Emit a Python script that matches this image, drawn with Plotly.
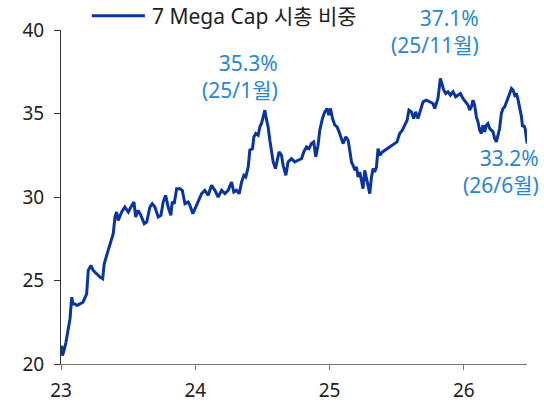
import plotly.graph_objects as go

# 7 Mega Cap market-cap share (%); x in decimal years
t = [2023.004, 2023.011, 2023.022, 2023.037, 2023.052, 2023.067, 2023.080, 2023.089, 2023.104, 2023.119,
     2023.141, 2023.164, 2023.191, 2023.203, 2023.223, 2023.240, 2023.266, 2023.290, 2023.310, 2023.322,
     2023.340, 2023.357, 2023.377, 2023.389, 2023.402, 2023.414, 2023.426, 2023.452, 2023.476, 2023.501,
     2023.521, 2023.543, 2023.556, 2023.575, 2023.595, 2023.620, 2023.638, 2023.662, 2023.679, 2023.699,
     2023.724, 2023.744, 2023.761, 2023.779, 2023.798, 2023.818, 2023.828, 2023.843, 2023.861, 2023.885,
     2023.903, 2023.923, 2023.947, 2023.960, 2023.982, 2023.997, 2024.022, 2024.047, 2024.071, 2024.096,
     2024.121, 2024.146, 2024.170, 2024.196, 2024.220, 2024.245, 2024.270, 2024.287, 2024.307, 2024.327,
     2024.345, 2024.362, 2024.376, 2024.394, 2024.406, 2024.426, 2024.436, 2024.451, 2024.468, 2024.481,
     2024.493, 2024.505, 2024.518, 2024.531, 2024.542, 2024.555, 2024.568, 2024.580, 2024.597, 2024.609,
     2024.624, 2024.642, 2024.654, 2024.674, 2024.691, 2024.716, 2024.741, 2024.766, 2024.791, 2024.808,
     2024.828, 2024.847, 2024.865, 2024.882, 2024.897, 2024.914, 2024.927, 2024.947, 2024.964, 2024.981,
     2024.994, 2025.007, 2025.022, 2025.039, 2025.056, 2025.071, 2025.089, 2025.100, 2025.121, 2025.138,
     2025.150, 2025.163, 2025.175, 2025.188, 2025.200, 2025.212, 2025.225, 2025.237, 2025.249, 2025.262,
     2025.274, 2025.286, 2025.299, 2025.312, 2025.324, 2025.336, 2025.349, 2025.361, 2025.374, 2025.394,
     2025.411, 2025.435, 2025.461, 2025.485, 2025.502, 2025.522, 2025.542, 2025.560, 2025.577, 2025.591,
     2025.609, 2025.626, 2025.641, 2025.658, 2025.671, 2025.696, 2025.721, 2025.746, 2025.770, 2025.783,
     2025.807, 2025.825, 2025.840, 2025.850, 2025.865, 2025.882, 2025.900, 2025.919, 2025.939, 2025.956,
     2025.974, 2025.993, 2026.013, 2026.031, 2026.043, 2026.056, 2026.068, 2026.080, 2026.093, 2026.105,
     2026.118, 2026.130, 2026.142, 2026.155, 2026.167, 2026.179, 2026.192, 2026.204, 2026.217, 2026.229,
     2026.242, 2026.254, 2026.266, 2026.279, 2026.291, 2026.304, 2026.316, 2026.329, 2026.341, 2026.354,
     2026.366, 2026.379, 2026.391, 2026.404, 2026.417, 2026.429, 2026.437, 2026.446, 2026.456, 2026.462,
     2026.471]
share = [21.1, 20.5, 20.8, 21.3, 22.0, 22.7, 24.0, 23.6, 23.6, 23.5,
         23.6, 23.7, 24.2, 25.6, 25.9, 25.6, 25.4, 25.2, 25.1, 26.0,
         26.5, 27.0, 27.6, 27.8, 28.8, 29.1, 28.6, 29.1, 29.4, 29.1,
         29.4, 29.7, 28.8, 29.2, 28.9, 28.4, 28.5, 29.4, 29.6, 29.4,
         28.8, 28.9, 29.7, 30.1, 29.4, 28.9, 29.7, 29.6, 30.5, 30.5,
         30.4, 29.6, 29.7, 29.5, 29.0, 29.3, 29.7, 30.2, 30.4, 30.1,
         30.7, 30.4, 30.0, 30.4, 30.2, 30.4, 30.9, 30.3, 30.4, 30.2,
         30.9, 31.3, 31.2, 31.8, 32.8, 32.9, 33.6, 33.8, 33.7, 34.2,
         34.4, 34.8, 35.2, 34.6, 34.2, 33.4, 32.6, 32.1, 31.7, 32.1,
         32.7, 32.5, 31.9, 31.3, 32.1, 32.3, 32.1, 32.2, 32.3, 32.7,
         33.0, 32.9, 33.2, 33.3, 32.4, 33.1, 34.0, 34.7, 35.1, 35.3,
         34.9, 35.3, 34.7, 34.3, 34.2, 33.9, 33.5, 33.2, 33.6, 33.4,
         32.8, 32.1, 31.9, 31.6, 31.8, 31.2, 31.5, 31.0, 30.5, 31.6,
         31.2, 30.7, 30.2, 31.2, 31.7, 31.5, 31.8, 32.9, 32.5, 32.7,
         32.8, 32.9, 33.1, 33.2, 33.3, 33.8, 34.0, 34.3, 34.6, 35.2,
         35.1, 34.7, 35.1, 34.7, 35.0, 35.7, 35.8, 35.7, 35.6, 35.3,
         35.9, 37.1, 36.7, 36.4, 36.2, 36.3, 36.1, 36.3, 36.0, 36.1,
         36.2, 35.9, 35.7, 35.5, 35.2, 35.4, 35.8, 35.5, 34.8, 34.5,
         34.0, 33.8, 34.3, 33.9, 34.3, 34.4, 34.1, 34.0, 33.9, 33.5,
         33.3, 33.7, 34.1, 35.0, 35.3, 35.4, 35.7, 35.9, 36.2, 36.5,
         36.4, 36.1, 36.2, 35.8, 35.3, 34.8, 34.2, 34.3, 34.1, 33.8,
         33.2]

tick_years = [2023, 2024, 2025, 2026]
tick_labels = ['23', '24', '25', '26']

FONT = 'Noto Sans, Noto Sans CJK KR'
LINE = '#0a359c'
NOTE = '#2b86cf'

fig = go.Figure()
fig.add_trace(go.Scatter(x=t, y=share, mode='lines', name='7 Mega Cap 시총 비중',
                         line=dict(color=LINE, width=3)))

# legend drawn by hand so the sample line is as long as in the original
fig.add_shape(type='line', xref='paper', yref='paper', x0=0.066, x1=0.180, y0=1.043, y1=1.043,
              line=dict(color=LINE, width=3))
fig.add_annotation(text='7 Mega Cap 시총 비중', xref='paper', yref='paper', x=0.190, y=1.043,
                   xanchor='left', yanchor='middle', showarrow=False,
                   font=dict(family=FONT, size=21, color='#222'))

note_font = dict(family=FONT, size=21, color=NOTE)
fig.add_annotation(text='35.3%<br>(25/1월)', x=2024.63, y=37.2, xanchor='right', align='right',
                   showarrow=False, font=note_font)
fig.add_annotation(text='37.1%<br>(25/11월)', x=2026.125, y=39.9, xanchor='right', align='right',
                   showarrow=False, font=note_font)
fig.add_annotation(text='33.2%<br>(26/6월)', xref='paper', x=1.031, y=31.5, xanchor='right',
                   align='right', showarrow=False, font=note_font)

fig.update_xaxes(range=[2023, 2026.47], tickvals=tick_years, ticktext=tick_labels,
                 showgrid=False, zeroline=False, showline=True, linecolor='#777', linewidth=1,
                 ticks='outside', ticklen=5, tickcolor='#777', ticklabelstandoff=4, automargin=False,
                 tickfont=dict(family=FONT, size=19, color='#222'))
fig.update_yaxes(range=[20, 40], dtick=5, showgrid=False, zeroline=False,
                 showline=True, linecolor='#333', linewidth=1,
                 ticks='outside', ticklen=6, tickcolor='#333', ticklabelstandoff=6, automargin=False,
                 tickfont=dict(family=FONT, size=19, color='#222'))
fig.update_layout(width=544, height=402, showlegend=False,
                  margin=dict(l=61, r=17, t=30, b=38),
                  plot_bgcolor='white', paper_bgcolor='white')

fig.write_html("out.html", config={'displayModeBar': False},
               post_script="document.body.style.margin='0';")
